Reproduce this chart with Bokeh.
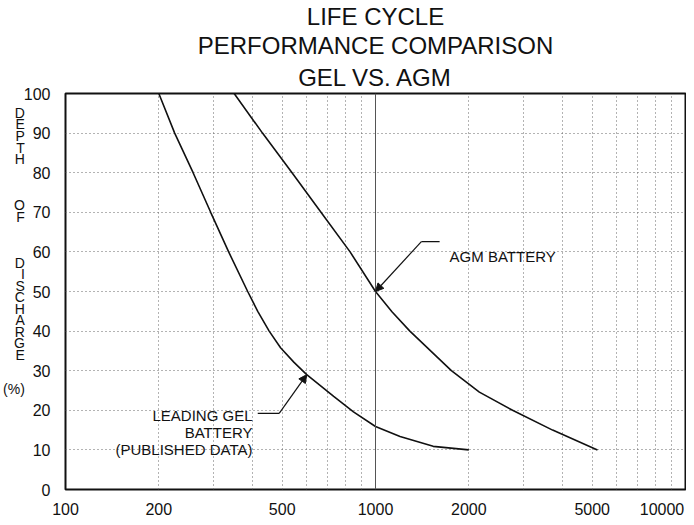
from bokeh.plotting import figure
from bokeh.models import FixedTicker, Span, Arrow, NormalHead, Title
from bokeh.core.properties import value
from bokeh.embed import file_html
from bokeh.resources import INLINE

# ---------------- data ----------------
gel_cycles = [200, 225, 258, 294, 336, 387, 417, 454, 494, 546, 600, 733, 849, 1000, 1200, 1535, 2000]
gel_dod = [100, 90, 80, 70, 60, 50, 45, 40, 35.8, 32.1, 29.0, 23.5, 19.6, 15.9, 13.4, 10.9, 10]

agm_cycles = [350, 432, 538, 667, 828, 1000, 1130, 1291, 1757, 2163, 2768, 3727, 5200]
agm_dod = [100, 90, 80, 70, 60, 50, 44.9, 40, 30, 24.6, 20, 15, 10]

x_tick_values = [100, 200, 500, 1000, 2000, 5000, 10000]
x_tick_labels = ["100", "200", "500", "1000", "2000", "5000", "10000"]
x_grid_values = [200, 300, 400, 500, 600, 700, 800, 900,
                 2000, 3000, 4000, 5000, 6000, 7000, 8000, 9000]
y_tick_values = [0, 10, 20, 30, 40, 50, 60, 70, 80, 90, 100]

title_lines = ["LIFE CYCLE", "PERFORMANCE COMPARISON", "GEL VS. AGM"]
agm_label = "AGM BATTERY"
gel_label = ["LEADING GEL", "BATTERY", "(PUBLISHED DATA)"]
y_title_words = ["DEPTH", "OF", "DISCHARGE"]
y_title_unit = "(%)"

FONT = "Liberation Sans"
INK = "#111111"

p = figure(width=686, height=520, x_axis_type="log",
           x_range=(100, 10000), y_range=(0, 100),
           output_backend="svg", toolbar_location=None,
           min_border_left=62, min_border_right=1,
           min_border_top=88, min_border_bottom=31)

p.background_fill_color = "white"
p.border_fill_color = "white"
p.outline_line_color = INK
p.outline_line_width = 2

# title: three centred lines; p.title is the outermost, added titles stack from the frame up
def style_title(t, standoff):
    t.align = "center"
    t.offset = -18
    t.text_font = FONT
    t.text_font_size = "24px"
    t.text_font_style = "normal"
    t.text_color = INK
    t.standoff = standoff

p.title.text = title_lines[0]
style_title(p.title, 0)
t3 = Title(text=title_lines[2])
style_title(t3, 6)
p.add_layout(t3, "above")
t2 = Title(text=title_lines[1])
style_title(t2, 0)
p.add_layout(t2, "above")

# axes
label_positions = x_tick_values[:-1] + [8400]  # last label kept inside the right edge
p.xaxis.ticker = FixedTicker(ticks=label_positions)
p.xaxis.major_label_overrides = {pos: lab for pos, lab in zip(label_positions, x_tick_labels)}
p.yaxis.ticker = FixedTicker(ticks=y_tick_values)
for ax in (p.xaxis, p.yaxis):
    ax.axis_line_color = None
    ax.major_tick_line_color = None
    ax.minor_tick_line_color = None
    ax.major_tick_out = 0
    ax.major_tick_in = 0
    ax.major_label_text_font = FONT
    ax.major_label_text_font_size = "16px"
    ax.major_label_text_color = INK
p.xaxis.major_label_standoff = 13
p.yaxis.major_label_standoff = 15

# y-axis title written as stacked letters, word gaps as blank lines
stack = []
stack += list(y_title_words[0]) + ["", "", ""]
stack += list(y_title_words[1]) + ["", "", ""]
stack += list(y_title_words[2]) + ["", ""]
stack += [y_title_unit]
stack += [""] * 7  # keeps the stack in the upper part of the axis, as in the original
p.yaxis.axis_label = "\n".join(stack)
p.yaxis.axis_label_orientation = "horizontal"
p.yaxis.axis_label_text_align = "center"
p.yaxis.axis_label_text_font = FONT
p.yaxis.axis_label_text_font_size = "14px"
p.yaxis.axis_label_text_font_style = "normal"
p.yaxis.axis_label_text_color = INK
p.yaxis.axis_label_text_line_height = 0.72
p.yaxis.axis_label_standoff = -4

# grid
p.xgrid.ticker = FixedTicker(ticks=x_grid_values)
p.ygrid.ticker = FixedTicker(ticks=y_tick_values[1:-1])
for g in (p.xgrid, p.ygrid):
    g.grid_line_color = "#666666"
    g.grid_line_dash = "1 3"
    g.grid_line_width = 1

p.add_layout(Span(location=1000, dimension="height", line_color="#555555", line_width=1))

# curves
p.line(gel_cycles, gel_dod, line_color=INK, line_width=1.6)
p.line(agm_cycles, agm_dod, line_color=INK, line_width=1.6)

# annotations: AGM
agm_tip = (agm_cycles[5], agm_dod[5])
agm_elbow = (1406, 62.6)
p.add_layout(Arrow(end=NormalHead(size=8, fill_color=INK, line_color=INK),
                   x_start=agm_elbow[0], y_start=agm_elbow[1],
                   x_end=agm_tip[0], y_end=agm_tip[1],
                   line_color=INK, line_width=1.2))
p.line([agm_elbow[0], 1610], [agm_elbow[1], agm_elbow[1]], line_color=INK, line_width=1.2)
p.text(x=[1734], y=[58.9], text=[agm_label], text_font=value(FONT),
       text_font_size=value("15px"), text_align="left", text_baseline="middle",
       text_color=INK)

# annotations: GEL
gel_tip = (gel_cycles[10], gel_dod[10])
gel_elbow = (489, 19.2)
p.add_layout(Arrow(end=NormalHead(size=8, fill_color=INK, line_color=INK),
                   x_start=gel_elbow[0], y_start=gel_elbow[1],
                   x_end=gel_tip[0], y_end=gel_tip[1],
                   line_color=INK, line_width=1.2))
p.line([417, gel_elbow[0]], [gel_elbow[1], gel_elbow[1]], line_color=INK, line_width=1.2)
p.text(x=[401, 401, 401], y=[18.6, 14.5, 10.2], text=gel_label, text_font=value(FONT),
       text_font_size=value("15px"), text_align="right", text_baseline="middle",
       text_color=INK)

open("out.html", "w").write(file_html(p, INLINE))
